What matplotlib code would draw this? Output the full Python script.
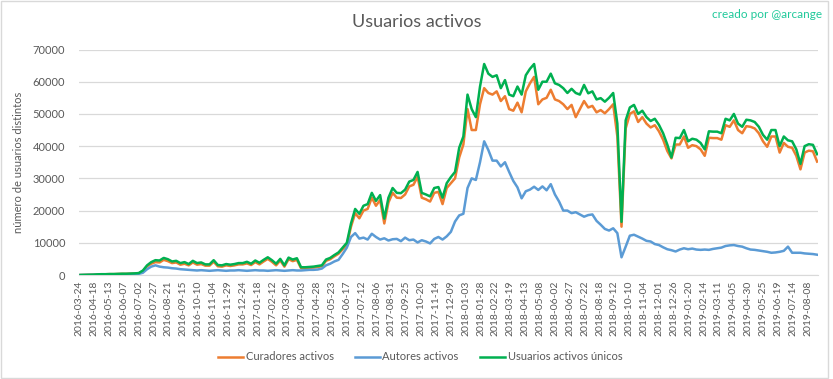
import numpy as np
import matplotlib
matplotlib.use("Agg")
import matplotlib.pyplot as plt
from matplotlib.patches import Rectangle

plt.rcParams['font.family'] = ['Lato', 'DejaVu Sans']

# ---- data (weekly samples, every 7 days starting at day 2) ----
tick_labels = [
    "2016-03-24", "2016-04-18", "2016-05-13", "2016-06-07", "2016-07-02", "2016-07-27",
    "2016-08-21", "2016-09-15", "2016-10-10", "2016-11-04", "2016-11-29", "2016-12-24",
    "2017-01-18", "2017-02-12", "2017-03-09", "2017-04-03", "2017-04-28", "2017-05-23",
    "2017-06-17", "2017-07-12", "2017-08-06", "2017-08-31", "2017-09-25", "2017-10-20",
    "2017-11-14", "2017-12-09", "2018-01-03", "2018-01-28", "2018-02-22", "2018-03-19",
    "2018-04-13", "2018-05-08", "2018-06-02", "2018-06-27", "2018-07-22", "2018-08-18",
    "2018-09-12", "2018-10-10", "2018-11-04", "2018-12-01", "2018-12-26", "2019-01-20",
    "2019-02-14", "2019-03-11", "2019-04-05", "2019-04-30", "2019-05-25", "2019-06-19",
    "2019-07-14", "2019-08-08",
]

curadores = [
    0, 40, 70, 90, 180, 220, 220, 270, 270, 320, 360, 360, 400, 450, 540,
    1200, 2700, 3500, 4000, 3900, 4700, 4300, 3700, 3900, 3200, 3500, 3000, 3900, 3200, 3400,
    2900, 2900, 4100, 2700, 2600, 3000, 2800, 3000, 3300, 3300, 3600, 3100, 4000, 3300, 4200,
    5000, 4100, 3000, 4500, 2600, 4900, 4300, 4700, 2100, 2100, 2200, 2300, 2500, 2700, 4400,
    4900, 5800,
    6600, 8000, 9400, 15000, 19200, 17600, 20000, 20500, 24000, 21500, 23300, 16000, 22500,
    25500, 24000, 23900, 25000, 27500, 28000, 30500, 24000, 23500, 22800, 25500, 25800, 22000,
    27000, 28500, 30000, 36500, 40500, 51500, 45000, 45000, 53000, 58000, 56500, 56000, 57000,
    54000, 55500, 51500, 51000, 53500, 50500, 57000, 59500, 61500, 53000, 54500, 55000, 57500,
    54500, 54000, 53000, 51500, 52800, 49000, 51500, 54000, 52000, 52500, 50500, 51200, 50200,
    51500, 53000, 43000,
    15000, 45500, 50000, 50800, 47500, 49000, 47000, 45800, 46500, 44600, 42000, 38500, 36200,
    40500, 40500, 43000, 39500, 40300, 40000, 39000, 37000, 42600, 42500, 42500, 42000, 46500,
    46000, 48000, 45000, 44000, 46200, 46000, 45500, 44000, 41500, 39800, 43000, 43000, 38000,
    41000, 39800, 39500, 37000, 32800, 38000, 38600, 38400, 35200,
]

autores = [
    0, 20, 40, 60, 80, 100, 100, 120, 150, 150, 200, 200, 250, 300, 350,
    700, 1800, 2600, 3000, 2600, 2400, 2300, 2100, 2000, 1800, 1700, 1600, 1500,
    1400, 1500, 1400, 1300, 1400, 1500, 1400, 1300, 1400, 1400, 1500, 1400, 1300, 1400,
    1500, 1400, 1400, 1300, 1400, 1500, 1400, 1300, 1400, 1500, 1400, 1400, 1500, 1600,
    1600, 1700, 2000, 3000, 3500, 4200,
    4700, 6500, 8500, 11800, 13000, 11300, 11600, 11000, 12800, 11800, 11000, 11400, 10700,
    11100, 11200, 10500, 11600, 10800, 11000, 10100, 10800, 10400, 9800, 11200, 11800, 11000,
    12000, 13400, 16600, 18500, 19000, 27000, 30000, 29500, 35000, 41500, 38800, 35500, 35500,
    33700, 35000, 32000, 29200, 27200, 23800, 26000, 26500, 27400, 26400, 27500, 26300, 28200,
    25000, 22800, 20000, 20000, 19200, 19500, 18800, 18100, 18600, 18800, 16800, 15600, 14300,
    13800, 14500, 13000,
    5500, 8800, 12200, 12500, 11900, 11300, 10600, 10400, 9600, 9300, 8600, 8000, 7700, 7300,
    7900, 8300, 8000, 8200, 7900, 7800, 7900, 7800, 8100, 8300, 8500, 9000, 9200, 9300, 9000,
    8800, 8300, 7900, 7800, 7600, 7400, 7200, 6900, 7000, 7200, 7500, 8800, 6900, 6900, 6900,
    6700, 6600, 6500, 6300,
]

unicos = [
    0, 50, 80, 100, 200, 250, 250, 300, 300, 350, 400, 400, 450, 500, 600,
    1400, 3000, 4000, 4600, 4500, 5300, 4900, 4200, 4400, 3700, 4000, 3400, 4400, 3700, 3900,
    3300, 3300, 4600, 3100, 3000, 3400, 3200, 3400, 3700, 3700, 4100, 3500, 4500, 3800, 4700,
    5500, 4600, 3500, 5000, 3000, 5400, 4800, 5200, 2400, 2400, 2500, 2600, 2800, 3000, 4800,
    5300, 6200,
    7000, 8500, 10000, 16000, 20500, 19000, 21500, 22000, 25500, 23000, 24800, 17500, 24000,
    27000, 25500, 25400, 26500, 29000, 29500, 32000, 25500, 25000, 24400, 27000, 27300, 24000,
    28500, 30400, 32000, 39500, 43000, 56000, 51500, 49000, 58500, 65500, 62500, 61500, 62000,
    58000, 60500, 56000, 55500, 58500, 56000, 62000, 64000, 65500, 57500, 60000, 60000, 62500,
    59500, 59000, 58000, 56500, 57800, 56500, 56000, 59000, 56400, 57000, 54500, 54900, 53800,
    55000, 56500, 47000,
    16500, 48000, 52000, 52800, 50000, 51000, 49000, 47800, 48500, 46600, 44000, 40500, 36500,
    42600, 42500, 45000, 41500, 42300, 42000, 41000, 39000, 44600, 44500, 44500, 44000, 48500,
    48000, 50000, 47000, 46000, 48200, 48000, 47500, 46000, 43500, 42000, 45000, 45000, 40000,
    43000, 41800, 41500, 39000, 34500, 40000, 40600, 40400, 37500,
]

SAMPLE_STEP = 7
SAMPLE_START = 2
N_DAYS = 1243

def days_for(series):
    return SAMPLE_START + SAMPLE_STEP * np.arange(len(series))

# ---- figure ----
W, H = 833, 379
fig = plt.figure(figsize=(W / 100, H / 100), dpi=100)
ax = fig.add_axes([79 / W, (H - 275) / H, (818 - 79) / W, (275 - 49.5) / H])

c_or, c_bl, c_gr = '#ED7D31', '#5B9BD5', '#00B050'
lw = 1.8
ax.plot(days_for(curadores), curadores, color=c_or, lw=lw, label='Curadores activos', zorder=3)
ax.plot(days_for(autores), autores, color=c_bl, lw=lw, label='Autores activos', zorder=3)
ax.plot(days_for(unicos), unicos, color=c_gr, lw=lw, label='Usuarios activos únicos', zorder=4)

ax.set_xlim(-0.5, N_DAYS - 0.5)
ax.set_ylim(0, 70000)
ax.set_yticks(np.arange(0, 70001, 10000))
ax.set_xticks(np.arange(len(tick_labels)) * 25)
ax.set_xticklabels(tick_labels, rotation=90)
grey = '#595959'
ax.tick_params(axis='y', length=0, labelsize=8, labelcolor=grey, pad=10)
ax.tick_params(axis='x', length=0, labelsize=7.5, labelcolor=grey, pad=4)
ax.grid(axis='y', color='#d9d9d9', lw=0.9)
for s in ['top', 'right', 'left']:
    ax.spines[s].set_visible(False)
ax.spines['bottom'].set_color('#d9d9d9')
ax.set_axisbelow(True)

ax.set_ylabel('número de usuarios distintos', fontsize=8, color=grey, labelpad=6)

fig.text(417 / W, 1 - 22 / H, 'Usuarios activos', ha='center', va='center',
         fontsize=13, color=grey, fontweight='normal')
fig.text(822 / W, 1 - 15 / H, 'creado por @arcange', ha='right', va='center',
         fontsize=8.5, color='#1fc99a')

leg = fig.legend(loc='center', bbox_to_anchor=(420 / W, 1 - 357 / H), ncol=3, frameon=False,
                 fontsize=8, handlelength=2.3, handletextpad=0.2, columnspacing=1.9)
for t in leg.get_texts():
    t.set_color(grey)

fig.patches.append(Rectangle((1 / W, 1 / H), 827 / W, 377 / H, transform=fig.transFigure,
                             fill=False, edgecolor='#d9d9d9', lw=1))

fig.savefig('out.png', dpi=100)
